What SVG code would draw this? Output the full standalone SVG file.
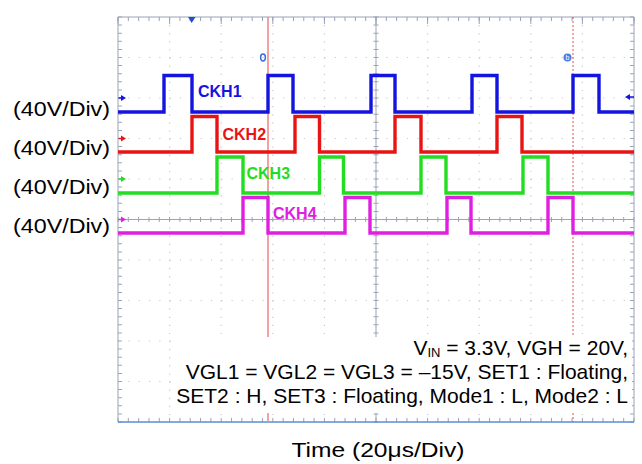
<svg xmlns="http://www.w3.org/2000/svg" width="642" height="464" viewBox="0 0 642 464">
<style>
.grid{stroke:#c4c8d0;stroke-width:1.2;fill:none}
.gv{stroke-dasharray:1.2 6.9}
.gh{stroke-dasharray:1.2 9.12}
.axis{stroke:#9aa3b8;stroke-width:1;fill:none}
.tick{stroke:#9aa3b8;fill:none}
.tr{fill:none;stroke-width:3.4;stroke-linejoin:miter}
.lbl{font-family:"Liberation Sans",Arial,sans-serif;font-size:20px;fill:#000}
.ck{font-family:"Liberation Sans",Arial,sans-serif;font-size:16px;font-weight:bold}
.note{font-family:"Liberation Sans",Arial,sans-serif;font-size:21px;fill:#000}
</style>
<rect x="0" y="0" width="642" height="464" fill="#fff"/>
<g id="scope-grid">
<path class="grid gv" d="M169.6,17V422M221.2,17V422M272.8,17V422M324.4,17V422M427.6,17V422M479.2,17V422M530.8,17V422M582.4,17V422"/>
<path class="grid gh" d="M118,57.5H634M118,98H634M118,138.5H634M118,179H634M118,260H634M118,300.5H634M118,341H634M118,381.5H634"/>
<path class="axis" d="M376,17V422M118,219.5H634"/>
<path class="tick" stroke-width="5" stroke-dasharray="1 9.32" d="M117.5,219.5H635"/>
<path class="tick" stroke-width="5" stroke-dasharray="1 7.1" d="M376,16.5V423"/>
<path class="tick" stroke-width="4" stroke-dasharray="1 9.32" d="M117.5,19H635"/>
<path class="tick" stroke-width="4" stroke-dasharray="1 9.32" d="M117.5,420H635"/>
<path class="tick" stroke-width="4" stroke-dasharray="1 7.1" d="M120,16.5V423"/>
<path class="tick" stroke-width="4" stroke-dasharray="1 7.1" d="M632,16.5V423"/>
<path class="tick" stroke-width="7" stroke-dasharray="1 50.6" d="M117.5,20.5H635"/>
<path class="axis" d="M118,17H634M118,17V422M634,17V422"/>
<path d="M118,422H634" stroke="#5b8dd9" stroke-width="1.6"/>
</g>
<g id="cursors">
<path d="M268,17V422" stroke="#f08a8a" stroke-width="1.6"/>
<path d="M573,17V422" stroke="#e05050" stroke-width="1" stroke-dasharray="2 2"/>
<ellipse cx="263" cy="57.5" rx="2.4" ry="3.4" fill="none" stroke="#3b6fd8" stroke-width="1.5"/>
<circle cx="567.5" cy="57.5" r="4" fill="#4a7ee0"/>
<text x="567.5" y="60" font-family="Liberation Sans,sans-serif" font-size="7" fill="#fff" text-anchor="middle">b</text>
<polygon points="188,17 195.5,17 191.7,23" fill="#1a4fd8"/>
</g>
<g id="connectors">
<path id="ckh1-trace" class="tr" stroke="#1414e0" d="M118,112H164V75.5H192V112H268V75.5H293V112H371V75.5H395V112H472V75.5H497V112H573V75.5H599V112H634"/>
<path id="ckh2-trace" class="tr" stroke="#e81414" d="M118,152H192V116.5H217V152H295V116.5H319.5V152H395V116.5H421V152H497V116.5H522V152H634"/>
<path id="ckh3-trace" class="tr" stroke="#22dd22" d="M118,193H217V157H243V193H319.5V157H343.5V193H421V157H446V193H523V157H548V193H634"/>
<path id="ckh4-trace" class="tr" stroke="#e020e0" d="M118,233H243V197.5H268V233H345V197.5H370V233H447V197.5H471V233H548V197.5H573V233H634"/>
</g>
<g id="markers">
<path d="M118.5,98H122" stroke="#1414e0" stroke-width="1.5"/><polygon points="121,95 126,98 121,101" fill="#1414e0"/>
<path d="M118.5,138.5H122" stroke="#e81414" stroke-width="1.5"/><polygon points="121,135.5 126,138.5 121,141.5" fill="#e81414"/>
<path d="M118.5,179H122" stroke="#22dd22" stroke-width="1.5"/><polygon points="121,176 126,179 121,182" fill="#22dd22"/>
<path d="M118.5,219.5H122" stroke="#e020e0" stroke-width="1.5"/><polygon points="121,216.5 126,219.5 121,222.5" fill="#e020e0"/>
<path d="M629,97H634" stroke="#1414e0" stroke-width="1.5"/><polygon points="630,94 625,97 630,100" fill="#1414e0"/>
</g>
<g id="ckh1"><text class="ck" x="198" y="96.7" fill="#1414e0">CKH1</text></g>
<g id="ckh2"><text class="ck" x="222.5" y="139.5" fill="#e81414">CKH2</text></g>
<g id="ckh3"><text class="ck" x="246.5" y="178.5" fill="#22dd22">CKH3</text></g>
<g id="ckh4"><text class="ck" x="273" y="218.5" fill="#e020e0">CKH4</text></g>
<g id="scale-labels">
<text class="lbl" x="13" y="115.5" textLength="97" lengthAdjust="spacingAndGlyphs">(40V/Div)</text>
<text class="lbl" x="13" y="154.5" textLength="97" lengthAdjust="spacingAndGlyphs">(40V/Div)</text>
<text class="lbl" x="13" y="193.5" textLength="97" lengthAdjust="spacingAndGlyphs">(40V/Div)</text>
<text class="lbl" x="13" y="232.5" textLength="97" lengthAdjust="spacingAndGlyphs">(40V/Div)</text>
</g>
<g id="conditions">
<rect x="172" y="337" width="460" height="76" fill="#fff"/>
<text class="note" x="628" y="354.5" text-anchor="end">V<tspan font-size="13" dy="2.5">IN</tspan><tspan dy="-2.5"> = 3.3V, VGH = 20V,</tspan></text>
<text class="note" x="628" y="379" text-anchor="end">VGL1 = VGL2 = VGL3 = –15V, SET1 : Floating,</text>
<text class="note" x="628" y="402.7" text-anchor="end">SET2 : H, SET3 : Floating, Mode1 : L, Mode2 : L</text>
</g>
<g id="time-axis">
<text class="lbl" x="291.5" y="456.7" font-size="22" textLength="173" lengthAdjust="spacingAndGlyphs">Time  (20μs/Div)</text>
</g>
</svg>
